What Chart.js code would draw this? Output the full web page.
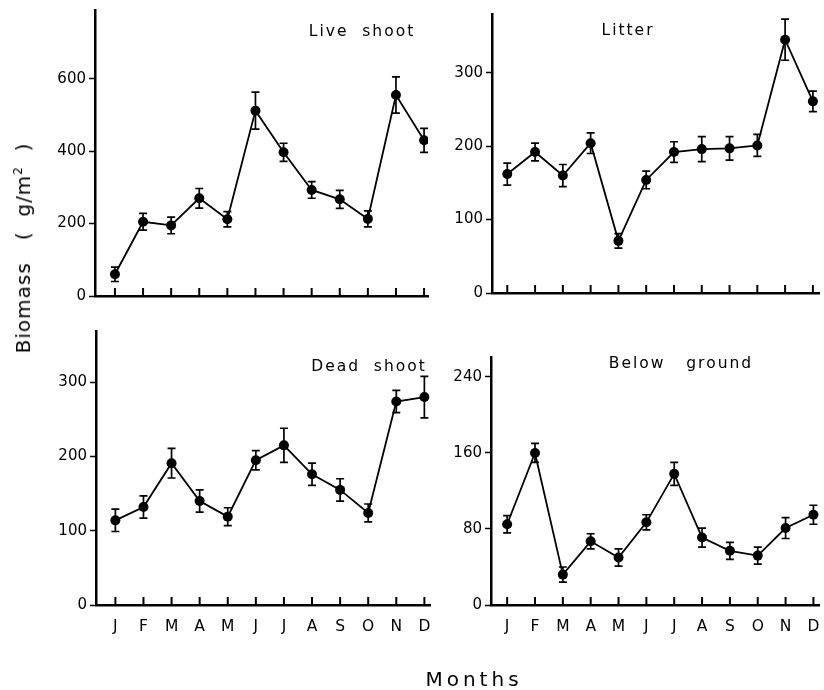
<!DOCTYPE html>
<html><head><meta charset="utf-8">
<script src="https://cdn.jsdelivr.net/npm/chart.js@4/dist/chart.umd.min.js"></script>
<style>
body{margin:0;background:#fff;width:824px;height:690px;overflow:hidden;position:relative;font-family:"DejaVu Sans",sans-serif;color:#000;}
canvas{position:absolute;left:0;top:0;}
.lbl{position:absolute;white-space:pre;color:#000;line-height:1;transform:translate(-50%,-50%);}
.ptitle{font-size:15.5px;letter-spacing:2px;}
</style></head><body>
<canvas id="c1" width="824" height="690"></canvas>
<canvas id="c2" width="824" height="690"></canvas>
<canvas id="c3" width="824" height="690"></canvas>
<canvas id="c4" width="824" height="690"></canvas>
<div class="lbl ptitle" style="left:362px;top:32px;">Live  shoot</div>
<div class="lbl ptitle" style="left:628px;top:31px;">Litter</div>
<div class="lbl ptitle" style="left:369px;top:367px;">Dead  shoot</div>
<div class="lbl ptitle" style="left:681px;top:364px;">Below   ground</div>
<div class="lbl" style="left:23px;top:248px;font-size:20px;letter-spacing:1px;transform:translate(-50%,-50%) rotate(-90deg);">Biomass   (  g/m<sup style="font-size:12px;vertical-align:8px;line-height:0">2</sup>  )</div>
<div class="lbl" style="left:474px;top:679px;font-size:20px;letter-spacing:4px;">Months</div>
<script>
const months = ['J','F','M','A','M','J','J','A','S','O','N','D'];

const liveShoot    = [60,205,195,270,212,512,397,293,267,213,555,430];
const liveShootErr = [20,23,23,27,21,51,25,23,25,22,50,33];
const liveTicks    = [0,200,400,600];

const litter       = [162,192,160,204,71,154,192,196,197,201,345,261];
const litterErr    = [15,12,15,14,10,12,14,17,16,15,28,14];
const litterTicks  = [0,100,200,300];

const deadShoot    = [114,132,191,140,119,195,215,176,155,124,274,280];
const deadShootErr = [15,15,20,15,12,13,23,15,15,12,15,28];
const deadTicks    = [0,100,200,300];

const belowGround    = [85,160,32,67,50,87,138,71,57,52,81,95];
const belowGroundErr = [9,10,8,8,9,8,12,10,9,9,11,10];
const belowTicks     = [0,80,160,240];

const errPlugin = {
  id: 'errbars',
  afterDatasetsDraw(chart, args, opts) {
    const ctx = chart.ctx, xs = chart.scales.x, ys = chart.scales.y, ca = chart.chartArea;
    ctx.save();
    ctx.strokeStyle = '#000';
    ctx.lineWidth = 1.7;
    opts.values.forEach((v, i) => {
      const px = xs.getPixelForValue(i);
      const y1 = ys.getPixelForValue(v - opts.errs[i]);
      const y2 = ys.getPixelForValue(v + opts.errs[i]);
      ctx.beginPath();
      ctx.moveTo(px, y1); ctx.lineTo(px, y2);
      ctx.moveTo(px - 4, y1); ctx.lineTo(px + 4, y1);
      ctx.moveTo(px - 4, y2); ctx.lineTo(px + 4, y2);
      ctx.stroke();
    });
    ctx.lineWidth = 2;
    months.forEach((m, i) => {
      const px = xs.getPixelForValue(i);
      ctx.beginPath();
      ctx.moveTo(px, ca.bottom);
      ctx.lineTo(px, ca.bottom - 8);
      ctx.stroke();
    });
    ctx.restore();
  }
};

const YW = 60, XH = 40;
const panels = [
  {id:'c1', values:liveShoot,   errs:liveShootErr,   ticks:liveTicks,  yMax:790, area:{l:95, t:10,  r:428, b:296}, xMin:-0.71, xMax:11.14, labels:false},
  {id:'c2', values:litter,      errs:litterErr,      ticks:litterTicks,yMax:380, area:{l:492,t:14,  r:822, b:293}, xMin:-0.55, xMax:11.22, labels:false},
  {id:'c3', values:deadShoot,   errs:deadShootErr,   ticks:deadTicks,  yMax:369, area:{l:96, t:331, r:430, b:605}, xMin:-0.69, xMax:11.2,  labels:true},
  {id:'c4', values:belowGround, errs:belowGroundErr, ticks:belowTicks, yMax:261, area:{l:491,t:357, r:822, b:605}, xMin:-0.58, xMax:11.2,  labels:true}
];

panels.forEach(p => {
  const a = p.area;
  new Chart(document.getElementById(p.id), {
    type: 'line',
    data: {
      datasets: [{
        data: p.values.map((v, i) => ({x: i, y: v})),
        borderColor: '#000', borderWidth: 1.8,
        pointRadius: 5, pointBackgroundColor: '#000', pointBorderWidth: 0,
        tension: 0, fill: false
      }]
    },
    options: {
      responsive: false, animation: false, events: [],
      layout: {padding: {left: a.l - YW, top: a.t, right: 824 - a.r, bottom: 690 - a.b - XH}},
      plugins: {legend: {display: false}, tooltip: {enabled: false}, title: {display: false},
                errbars: {values: p.values, errs: p.errs}},
      scales: {
        x: {
          type: 'linear', position: 'bottom', min: p.xMin, max: p.xMax,
          afterBuildTicks: s => { s.ticks = months.map((m, i) => ({value: i})); },
          afterFit: s => { s.height = XH; s.paddingLeft = 0; s.paddingRight = 0; },
          ticks: {display: p.labels, autoSkip: false, maxRotation: 0, padding: 13,
                  color: '#000', font: {family: 'DejaVu Sans', size: 15.5},
                  callback: v => months[Math.round(v)]},
          grid: {display: true, drawOnChartArea: false, drawTicks: false, color: '#000'},
          border: {display: true, color: '#000', width: 2.5}
        },
        y: {
          type: 'linear', min: 0, max: p.yMax,
          afterBuildTicks: s => { s.ticks = p.ticks.map(v => ({value: v})); },
          afterFit: s => { s.width = YW; s.paddingTop = 0; s.paddingBottom = 0; },
          ticks: {padding: 3, color: '#000', font: {family: 'DejaVu Sans', size: 15}, callback: v => v},
          grid: {drawOnChartArea: false, drawTicks: true, tickLength: 6, tickWidth: 1.5, color: '#000'},
          border: {display: true, color: '#000', width: 2.5}
        }
      }
    },
    plugins: [errPlugin]
  });
});
</script>
</body></html>
